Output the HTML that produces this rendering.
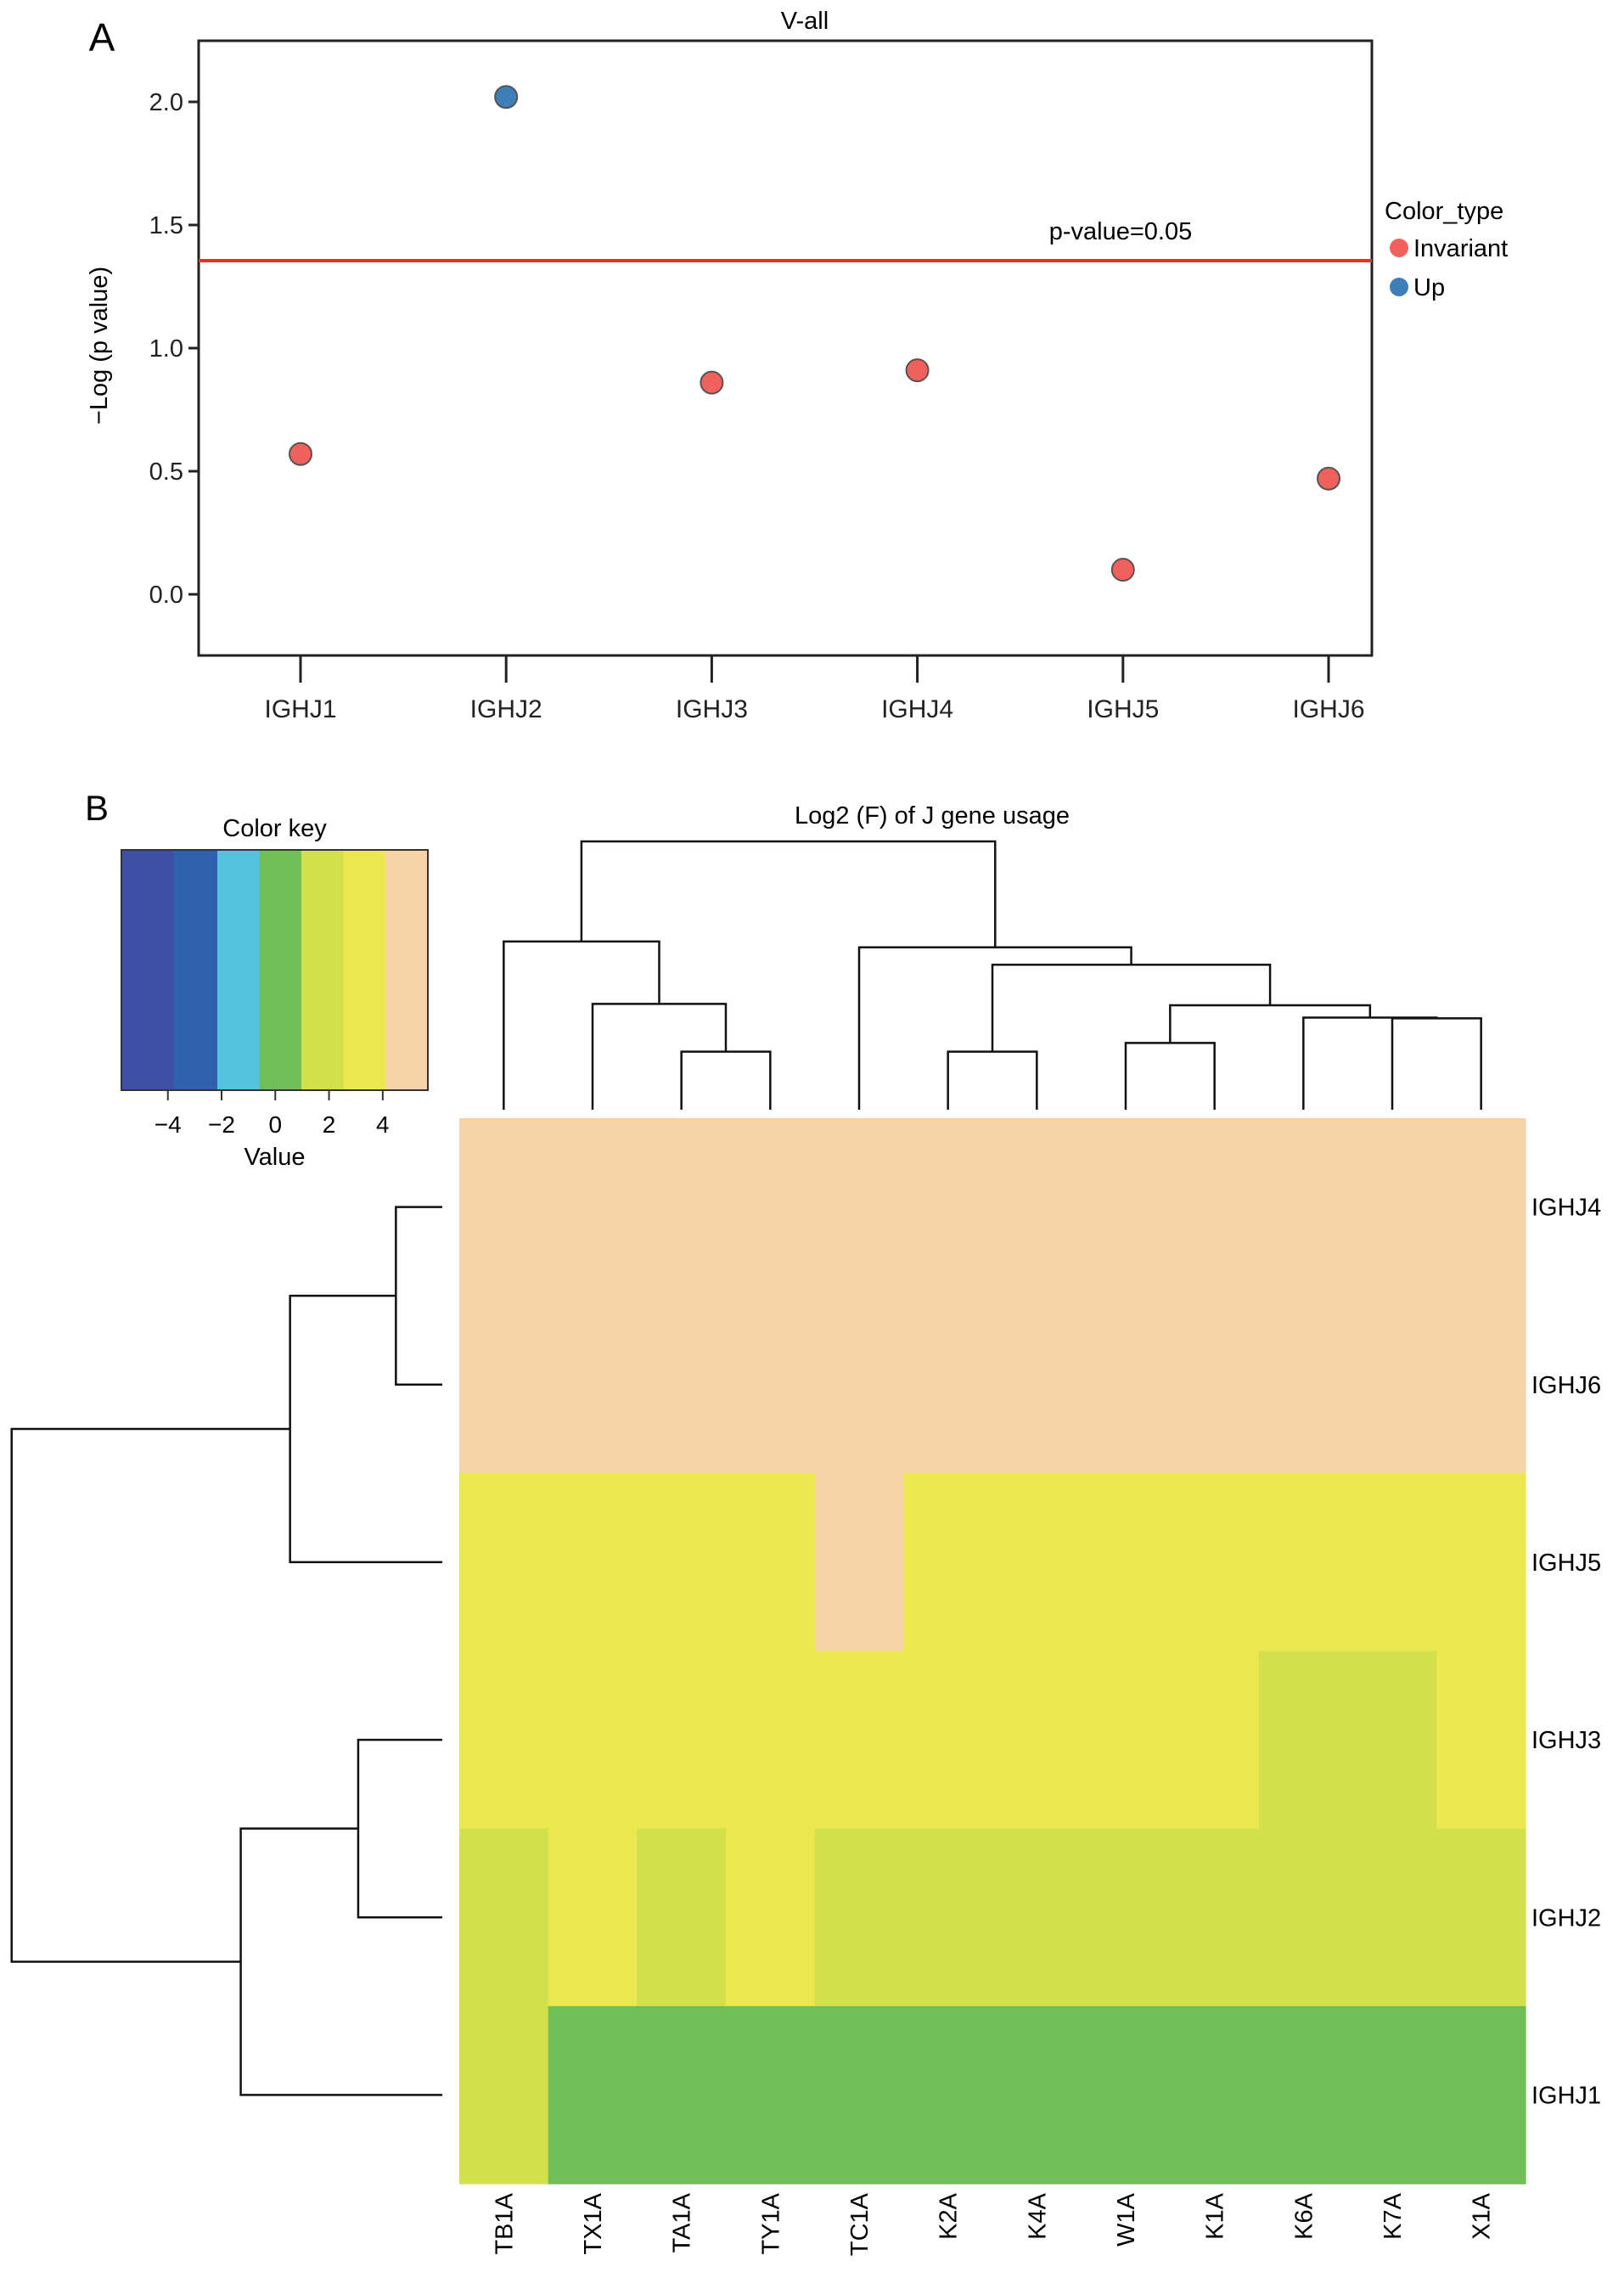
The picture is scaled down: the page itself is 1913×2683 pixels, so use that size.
<!DOCTYPE html>
<html><head><meta charset="utf-8"><style>
body{margin:0;background:#fff}
svg{display:block;font-family:"Liberation Sans",sans-serif}
</style></head><body>
<svg id="fig" width="1913" height="2683" viewBox="0 0 1913 2683" xmlns="http://www.w3.org/2000/svg">
<g id="pa"></g>
<g id="pb"></g>
</svg>
<script>
// Panel A data
const genes = ["IGHJ1","IGHJ2","IGHJ3","IGHJ4","IGHJ5","IGHJ6"];
const logp = [0.57, 2.02, 0.86, 0.91, 0.10, 0.47];
const colorType = ["Invariant","Up","Invariant","Invariant","Invariant","Invariant"];
const yTicks = [0.0, 0.5, 1.0, 1.5, 2.0];
const yTickLabels = ["0.0","0.5","1.0","1.5","2.0"];
const threshold = [1.355];
// Panel B data
const cols = ["TB1A","TX1A","TA1A","TY1A","TC1A","K2A","K4A","W1A","K1A","K6A","K7A","X1A"];
const rows = ["IGHJ4","IGHJ6","IGHJ5","IGHJ3","IGHJ2","IGHJ1"];
const heat = [
 [5,5,5,5,5,5,5,5,5,5,5,5],
 [5,5,5,5,5,5,5,5,5,5,5,5],
 [3.5,3.5,3.5,3.5,5,3.5,3.5,3.5,3.5,3.5,3.5,3.5],
 [3.5,3.5,3.5,3.5,3.5,3.5,3.5,3.5,3.5,2,2,3.5],
 [2,3.5,2,3.5,2,2,2,2,2,2,2,2],
 [2,0,0,0,0,0,0,0,0,0,0,0]
];
const keyBreaks = [-5.73,-3.78,-2.16,-0.59,0.97,2.54,4.1,5.68];
const keyColors = ["#3f4fa4","#2e62ad","#54c4de","#70bf56","#d1e04b","#ebe84f","#f7d4a8"];
const keyTicks = [-4,-2,0,2,4];
const keyTickLabels = ["\u22124","\u22122","0","2","4"];
const colMerges = [["TA1A","TY1A",40],["TX1A",0,73],["TB1A",1,116],["K2A","K4A",40],["W1A","K1A",46],["K7A","X1A",63],["K6A",5,63.5],[4,6,72],[3,7,100],["TC1A",8,112],[2,9,185]];
const rowMerges = [["IGHJ4","IGHJ6",32],[0,"IGHJ5",105],["IGHJ3","IGHJ2",58],[2,"IGHJ1",139],[1,3,297]];

const NS="http://www.w3.org/2000/svg";
function mk(parent,tag,attrs,text){const e=document.createElementNS(NS,tag);for(const k in attrs)e.setAttribute(k,attrs[k]);if(text!==undefined)e.textContent=text;parent.appendChild(e);return e;}

// ---- Panel A ----
const pa=document.getElementById('pa');
const L=234,R=1616,T=48,B=772;
const ys=v=>700-v*290;
const xs=i=>354+i*242.2;
let t;
t=mk(pa,'text',{x:120,y:60,'font-size':46,'text-anchor':'middle'},'A');

t=mk(pa,'text',{x:948,y:34,'font-size':29,'text-anchor':'middle'},'V-all');

t=mk(pa,'rect',{x:L,y:T,width:R-L,height:B-T,fill:'none',stroke:'#222','stroke-width':3});

yTicks.forEach((v,i)=>{
 t=mk(pa,'line',{x1:L-12,x2:L,y1:ys(v),y2:ys(v),stroke:'#222','stroke-width':3});
 
 t=mk(pa,'text',{x:L-18,y:ys(v)+10,'font-size':29,'text-anchor':'end',fill:'#222'},yTickLabels[i]);
 
});
t=mk(pa,'text',{x:0,y:0,'font-size':29,'text-anchor':'middle',transform:'translate(126,407) rotate(-90)'},'\u2212Log (p value)');

genes.forEach((g,i)=>{
 t=mk(pa,'line',{x1:xs(i),x2:xs(i),y1:B,y2:B+32,stroke:'#222','stroke-width':3});
 
 t=mk(pa,'text',{x:xs(i),y:845,'font-size':30,'text-anchor':'middle',fill:'#222'},g);
 
});
t=mk(pa,'line',{x1:L,x2:R,y1:ys(threshold[0]),y2:ys(threshold[0]),stroke:'#e5332a','stroke-width':4});

t=mk(pa,'text',{x:1320,y:282,'font-size':29,'text-anchor':'middle'},'p-value=0.05');

const ptCol={Invariant:'#f0615c',Up:'#3d7fb8'};
logp.forEach((v,i)=>{
 t=mk(pa,'circle',{cx:xs(i),cy:ys(v),r:13,fill:ptCol[colorType[i]],stroke:'#555','stroke-width':2});
 
});
t=mk(pa,'text',{x:1631,y:258,'font-size':29},'Color_type');

[['Invariant',292],['Up',338]].forEach(([n,y])=>{
 t=mk(pa,'circle',{cx:1648,cy:y,r:11,fill:ptCol[n]});
 
 t=mk(pa,'text',{x:1665,y:y+10,'font-size':29},n);
 
});

// ---- Panel B ----
const pb=document.getElementById('pb');
t=mk(pb,'text',{x:114,y:966,'font-size':42,'text-anchor':'middle'},'B');

t=mk(pb,'text',{x:1098,y:970,'font-size':29,'text-anchor':'middle'},'Log2 (F) of J gene usage');

// color key
const KL=143,KR=504,KT=1001,KB=1284;
const kx=v=>KL+(v-keyBreaks[0])/(keyBreaks[keyBreaks.length-1]-keyBreaks[0])*(KR-KL);
keyColors.forEach((c,i)=>{
 t=mk(pb,'rect',{x:kx(keyBreaks[i]),y:KT,width:kx(keyBreaks[i+1])-kx(keyBreaks[i])+0.5,height:KB-KT,fill:c});
 
});
t=mk(pb,'rect',{x:KL,y:KT,width:KR-KL,height:KB-KT,fill:'none',stroke:'#333','stroke-width':2});

t=mk(pb,'text',{x:(KL+KR)/2,y:985,'font-size':29,'text-anchor':'middle'},'Color key');

keyTicks.forEach((v,i)=>{
 t=mk(pb,'line',{x1:kx(v),x2:kx(v),y1:KB,y2:KB+12,stroke:'#333','stroke-width':2});
 
 t=mk(pb,'text',{x:kx(v),y:1334,'font-size':28,'text-anchor':'middle'},keyTickLabels[i]);
 
});
t=mk(pb,'text',{x:(KL+KR)/2,y:1372,'font-size':29,'text-anchor':'middle'},'Value');

// heatmap
const HL=541,HR=1797,HT=1317,HB=2572;
const cw=(HR-HL)/cols.length, rh=(HB-HT)/rows.length;
function colorOf(v){for(let i=0;i<keyColors.length;i++){if(v<keyBreaks[i+1])return keyColors[i];}return keyColors[keyColors.length-1];}
heat.forEach((row,r)=>row.forEach((v,c)=>{
 t=mk(pb,'rect',{x:HL+c*cw,y:HT+r*rh,width:cw+0.6,height:rh+0.6,fill:colorOf(v)});
 
}));
rows.forEach((n,r)=>{
 t=mk(pb,'text',{x:1804,y:HT+(r+0.5)*rh+10,'font-size':29},n);
 
});
cols.forEach((n,c)=>{
 const x=HL+(c+0.5)*cw;
 t=mk(pb,'text',{x:0,y:0,'font-size':29,'text-anchor':'end',transform:`translate(${x+10},2583) rotate(-90)`},n);
 
});
// dendrograms
function dendro(merges,leaves,posLeaf,toXY,name){
 const pos=[],hs=[];
 const get=k=>typeof k==='string'?[posLeaf(leaves.indexOf(k)),0]:[pos[k],hs[k]];
 merges.forEach((m,i)=>{
  const [pa_,ha]=get(m[0]),[pb_,hb]=get(m[1]),h=m[2];
  const pts=[toXY(pa_,ha),toXY(pa_,h),toXY(pb_,h),toXY(pb_,hb)];
  t=mk(pb,'polyline',{points:pts.map(p=>p.join(',')).join(' '),fill:'none',stroke:'#111','stroke-width':2.5});
  
  pos[i]=(pa_+pb_)/2;hs[i]=h;
 });
}
const colBase=1307,rowBase=521,u=1.708;
dendro(colMerges,cols,i=>HL+(i+0.5)*cw,(p,h)=>[p,colBase-h*u],'column-dendrogram-branch');
dendro(rowMerges,rows,i=>HT+(i+0.5)*rh,(p,h)=>[rowBase-h*u,p],'row-dendrogram-branch');
</script>
</body></html>
